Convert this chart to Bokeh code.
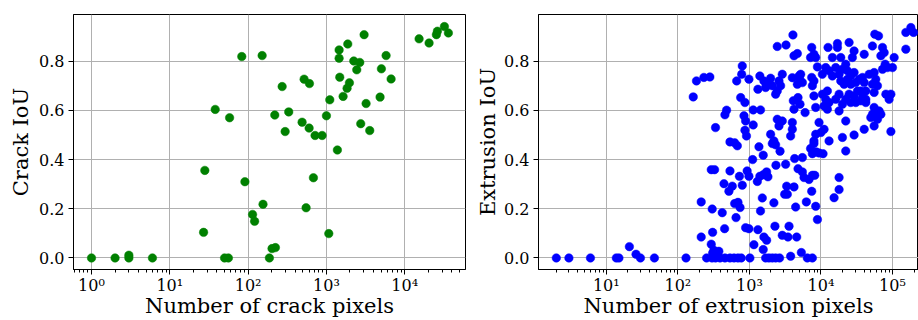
from bokeh.plotting import figure
from bokeh.layouts import row
from bokeh.models import Range1d, FixedTicker, PrintfTickFormatter
from bokeh.embed import file_html
from bokeh.resources import INLINE

# ---- data: crack ----
crack_pixels = [1, 2, 3, 3, 6, 28, 27, 38, 58, 50,
                56, 83, 91, 114, 121, 151, 155, 187, 202, 223,
                219, 272, 297, 330, 489, 519, 550, 601, 607, 682,
                716, 881, 1000, 1072, 1104, 1381, 1452, 1452, 1480, 1633,
                1836, 1873, 1966, 2234, 2440, 2665, 2743, 3027, 3209, 3575,
                4842, 5036, 5780, 6697, 15250, 20460, 25360, 26120, 32100, 36100]
crack_iou = [0, 0, 0.011, 0, 0, 0.356, 0.104, 0.604, 0.570, 0,
             0, 0.819, 0.310, 0.177, 0.149, 0.823, 0.218, 0, 0.038, 0.042,
             0.581, 0.697, 0.514, 0.594, 0.552, 0.727, 0.204, 0.528, 0.709, 0.326,
             0.498, 0.498, 0.578, 0.099, 0.643, 0.439, 0.846, 0.812, 0.735, 0.657,
             0.690, 0.870, 0.712, 0.801, 0.765, 0.795, 0.546, 0.908, 0.628, 0.518,
             0.654, 0.769, 0.823, 0.728, 0.891, 0.874, 0.908, 0.922, 0.941, 0.915]

# ---- data: extrusion ----
extrusion_pixels = [
    2, 3, 6, 13.8, 15, 21, 26, 30, 47, 130,
    164, 182, 231, 280, 212, 212, 252, 293, 306, 302, 293, 326, 319, 300, 306,
    336, 374, 336, 388, 417, 441, 450, 455, 455, 480, 517, 576, 535, 535, 622, 678, 535, 610, 692, 770,
    650, 622, 692, 740, 664, 780, 795, 725, 755, 866, 795, 840, 885, 866, 910, 885, 985, 930, 985, 985,
    1016, 1110, 1130, 1430, 1130, 1156, 1315, 1290, 1400, 1360, 1400, 1595, 1815, 1980, 2090, 1685, 1315, 1515, 1430, 1560, 1740, 1815, 1560, 1595, 1740,
    1560, 1685, 1875, 2090, 2325, 2640, 2090, 2325, 1980, 2200, 2200, 2275, 2350, 2450, 3250, 2450, 2880, 2590, 2590, 2880, 2730, 2450, 2325, 2680,
    2880, 3460, 3580, 3110, 3390, 3320, 3210, 3770, 3980, 4940, 4060, 4200, 4680, 4110, 4780, 4200, 5100, 3980, 3980, 3770, 4290, 4780, 4430, 4580, 5320, 6450, 7590,
    5500, 7160, 7980, 7590, 8630, 9400, 10700, 5500, 5800, 6810, 7590, 8190, 4200, 7430, 6250, 8450, 8930,
    7430, 7160, 7980, 8450, 8930, 5210, 5050, 5500, 4680, 7430, 7980, 7590, 7980, 8450, 6000, 9400, 8450, 7980,
    10460, 11660, 12980, 12570, 16990, 16990, 24740, 14460, 18930, 29060, 27500, 22210, 19960, 17920, 23470, 16090, 14460, 18930, 21080, 23470, 26080, 29060,
    26080, 30700, 34200, 38100, 40200, 32400, 29060, 36100, 42400, 38100, 24740, 22210, 19960, 26080, 30700, 36100, 42400, 17920, 16090, 12300, 10460, 11660, 12980, 11050, 12300,
    17920, 22210, 11050, 10000, 12980, 19960, 29060, 40200, 55400, 52500, 49800, 58400, 68800, 61600, 95000, 47200, 55400, 58400, 52500, 61600, 55400,
    40200, 52500, 72500, 76500, 68800, 56600, 63800, 79000, 85000, 72500, 100000, 105500, 80800, 95000, 89700, 153700, 180700, 197000, 153700, 55400, 65100, 42400, 22210, 15260, 17920, 17920,
]
extrusion_iou = [
    0, 0, 0, 0, 0, 0.046, 0.015, 0, 0, 0,
    0.655, 0.72, 0.734, 0.736, 0.228, 0.085, 0, 0.056, 0.104, 0.199, 0.359, 0.359, 0.031, 0, 0.02,
    0.53, 0.027, 0, 0, 0.184, 0.302, 0.119, 0, 0.582, 0.601, 0.271, 0.292, 0.354, 0.472, 0.468, 0.456, 0, 0, 0, 0,
    0.164, 0.221, 0.226, 0.205, 0.72, 0.747, 0.781, 0.332, 0.652, 0.632, 0.296, 0.578, 0.557, 0.519, 0.496, 0.123, 0.119, 0.354, 0.332, 0.727,
    0, 0.40, 0.602, 0.602, 0.541, 0.054, 0.115, 0.311, 0.332, 0.452, 0.740, 0.72, 0.706, 0.731, 0.70, 0.693, 0.686, 0.244, 0.191, 0.338, 0.35, 0.33, 0.418, 0.085, 0.072,
    0.034, 0, 0, 0, 0, 0, 0.465, 0.46, 0.503, 0.476, 0.224, 0.129, 0.377, 0.86, 0.866, 0.564, 0.557, 0.537, 0.72, 0.747, 0.70, 0.679, 0.666, 0.434,
    0.092, 0.085, 0.129, 0.259, 0.259, 0.292, 0.381, 0.007, 0.733, 0.74, 0.907, 0.822, 0.831, 0.639, 0.652, 0.605, 0.625, 0.551, 0.523, 0.496, 0.404, 0.363, 0.207, 0.085, 0.022, 0, 0,
    0.408, 0.445, 0.465, 0.424, 0.431, 0.427, 0.424, 0.35, 0.327, 0.319, 0.336, 0.336, 0.289, 0.271, 0.228, 0.21, 0.156,
    0.856, 0.815, 0.828, 0.815, 0.777, 0.747, 0.727, 0.713, 0.706, 0.734, 0.72, 0.70, 0.659, 0.612, 0.591, 0.551, 0.503, 0.476,
    0.747, 0.774, 0.761, 0.856, 0.872, 0.856, 0.876, 0.815, 0.815, 0.842, 0.815, 0.788, 0.767, 0.747, 0.761, 0.774, 0.74, 0.72, 0.706, 0.727, 0.74, 0.754,
    0.706, 0.713, 0.727, 0.734, 0.713, 0.679, 0.659, 0.679, 0.679, 0.652, 0.666, 0.645, 0.625, 0.632, 0.632, 0.639, 0.645, 0.666, 0.645, 0.679, 0.666, 0.645, 0.632, 0.618, 0.605,
    0.598, 0.557, 0.523, 0.51, 0.476, 0.49, 0.50, 0.523, 0.537, 0.584, 0.571, 0.584, 0.584, 0.564, 0.514, 0.747, 0.754, 0.727, 0.706, 0.70, 0.673,
    0.828, 0.862, 0.856, 0.835, 0.822, 0.91, 0.903, 0.788, 0.774, 0.767, 0.774, 0.815, 0.666, 0.666, 0.645, 0.917, 0.937, 0.917, 0.849, 0.612, 0.598, 0.632, 0.435, 0.245, 0.327, 0.278,
]

y_ticks = [0.0, 0.2, 0.4, 0.6, 0.8]
sup = {0: "\u2070", 1: "\u00b9", 2: "\u00b2", 3: "\u00b3", 4: "\u2074", 5: "\u2075"}

FONT = "DejaVu Serif"


def make_fig(width, mbl, mbr, xr, decades, xlabel, ylabel, xs, ys, color, ylab_standoff):
    p = figure(width=width, height=320, x_axis_type="log",
               x_range=Range1d(*xr), y_range=Range1d(-0.047, 0.99),
               output_backend="svg", toolbar_location=None, title=None,
               min_border_left=mbl, min_border_right=mbr,
               min_border_top=14, min_border_bottom=51)
    majors = [10.0 ** k for k in decades]
    minors = [m * 10.0 ** k for k in range(decades[0] - 1, decades[-1] + 1)
              for m in range(2, 10) if xr[0] <= m * 10.0 ** k <= xr[1]]
    p.xaxis.ticker = FixedTicker(ticks=majors, minor_ticks=minors)
    p.xaxis.major_label_overrides = {10.0 ** k: "10" + sup[k] for k in decades}
    p.yaxis.ticker = FixedTicker(ticks=y_ticks)
    p.yaxis.formatter = PrintfTickFormatter(format="%.1f")
    p.yaxis.minor_tick_line_color = None

    for ax in (p.xaxis[0], p.yaxis[0]):
        ax.axis_line_color = "black"
        ax.major_tick_line_color = "black"
        ax.major_tick_in = 0
        ax.major_tick_out = 5
        ax.minor_tick_in = 0
        ax.minor_tick_out = 3
        ax.major_label_text_font = FONT
        ax.major_label_text_font_size = "16px"
        ax.major_label_text_color = "black"
        ax.axis_label_text_font = FONT
        ax.axis_label_text_font_size = "21px"
        ax.axis_label_text_font_style = "normal"
        ax.axis_label_text_color = "black"
    p.xaxis.major_label_standoff = 1
    p.xaxis.axis_label_standoff = -4
    p.yaxis.major_label_standoff = 4
    p.yaxis.axis_label_standoff = ylab_standoff
    p.xaxis.axis_label = xlabel
    p.yaxis.axis_label = ylabel

    p.xgrid.grid_line_color = "#b0b0b0"
    p.ygrid.grid_line_color = "#b0b0b0"
    p.xgrid.grid_line_width = 1
    p.ygrid.grid_line_width = 1
    p.outline_line_color = "black"
    p.outline_line_width = 1
    p.outline_line_alpha = 1
    p.background_fill_color = "white"
    p.border_fill_color = "white"

    p.scatter(xs, ys, size=8.5, fill_color=color, line_color=color, line_width=0.5)
    return p


p1 = make_fig(470, 73, 5, (0.589, 59700), [0, 1, 2, 3, 4],
              "Number of crack pixels", "Crack IoU",
              crack_pixels, crack_iou, "#008000", 3)
p2 = make_fig(448, 68, 0, (1.127, 231000), [1, 2, 3, 4, 5],
              "Number of extrusion pixels", "Extrusion IoU",
              extrusion_pixels, extrusion_iou, "#0000ff", 1)

layout = row(p1, p2, spacing=0)
open("out.html", "w").write(file_html(layout, INLINE))
